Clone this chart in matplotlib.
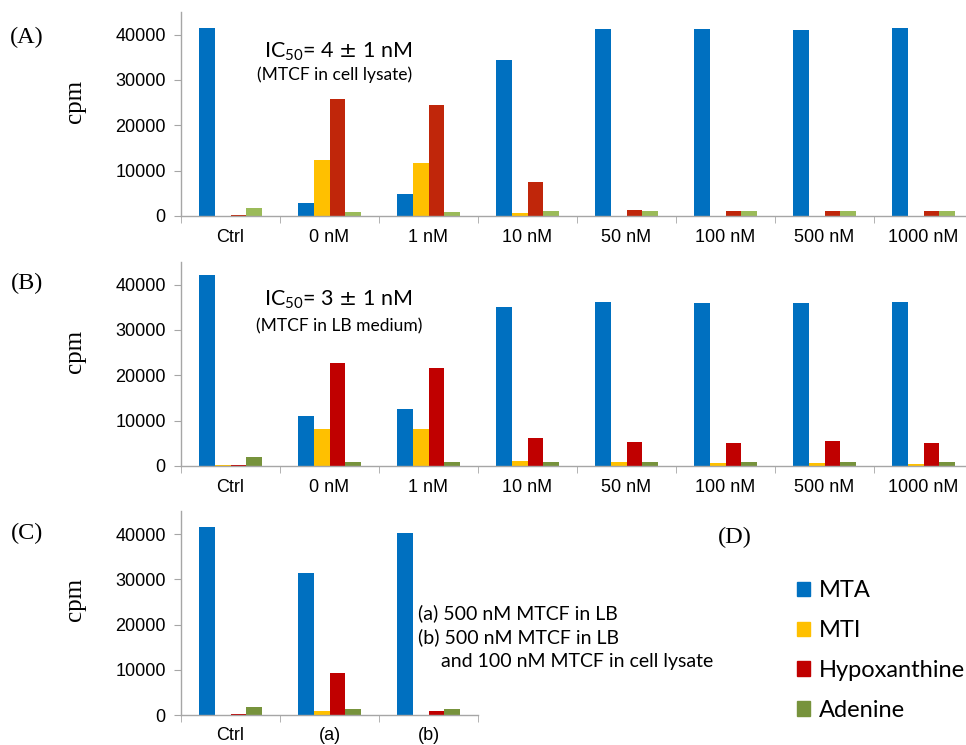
import numpy as np
from matplotlib import pyplot as plt

# Categories and series
concLabels = ['Ctrl', '0 nM', '1 nM', '10 nM', '50 nM', '100 nM', '500 nM', '1000 nM']
mixLabels = ['Ctrl', '(a)', '(b)']
seriesNames = ['MTA', 'MTI', 'Hypoxanthine', 'Adenine']

# Panel A: MTCF in cell lysate (cpm)
mtaA = [41500, 2900, 4900, 34500, 41300, 41150, 41080, 41500]
mtiA = [100, 12300, 11700, 600, 100, 100, 100, 100]
hypoA = [300, 25800, 24500, 7450, 1300, 1000, 1000, 1000]
adeA = [1700, 900, 900, 1200, 1100, 1000, 1000, 1000]

# Panel B: MTCF in LB medium (cpm)
mtaB = [42100, 11000, 12600, 35100, 36200, 35850, 36000, 36200]
mtiB = [200, 8250, 8100, 1000, 900, 700, 700, 500]
hypoB = [300, 22700, 21550, 6200, 5400, 5150, 5600, 5150]
adeB = [2000, 950, 800, 900, 900, 950, 900, 900]

# Panel C: combined treatments (cpm)
mtaC = [41500, 31400, 40200]
mtiC = [100, 900, 100]
hypoC = [300, 9200, 950]
adeC = [1700, 1300, 1300]

colorsA = ['#0070C0', '#FFC000', '#C0260A', '#9BBB59']
colorsB = ['#0070C0', '#FFC000', '#C00000', '#77933C']

W, H = 966, 745
tickFont = {'family': 'Liberation Sans', 'size': 13}
serifFont = {'family': 'Liberation Serif', 'size': 17.5}
noteFamily = 'Lato'

fig = plt.figure(figsize=(W / 100.0, H / 100.0), dpi=100)


def pixAxes(left, top, right, bottom):
    return fig.add_axes([left / W, 1 - bottom / H, (right - left) / W, (bottom - top) / H])


def drawPanel(ax, labels, series, colors):
    n = len(labels)
    ind = np.arange(n)
    width = 0.157
    for k in range(4):
        ax.bar(ind + (k - 1.5) * width, series[k], width, color=colors[k],
               edgecolor='none', zorder=2)
    ax.set_xlim(-0.5, n - 0.5)
    ax.set_ylim(0, 45000)
    ax.set_yticks(np.arange(0, 40001, 10000))
    ax.set_yticklabels([str(v) for v in range(0, 40001, 10000)], **tickFont)
    ax.set_xticks(ind)
    ax.set_xticklabels(labels, **tickFont)
    ax.set_xticks(np.arange(-0.5, n, 1.0), minor=True)
    ax.tick_params(axis='x', which='major', length=0, pad=9)
    ax.tick_params(axis='x', which='minor', length=5, color='#A6A6A6')
    ax.tick_params(axis='y', length=5, color='#A6A6A6', pad=6)
    for s in ['top', 'right']:
        ax.spines[s].set_visible(False)
    for s in ['left', 'bottom']:
        ax.spines[s].set_color('#A6A6A6')
        ax.spines[s].set_linewidth(1.0)
    ax.patch.set_alpha(0)


axA = pixAxes(181, 12, 973, 216)
drawPanel(axA, concLabels, [mtaA, mtiA, hypoA, adeA], colorsA)
axB = pixAxes(181, 262, 973, 466)
drawPanel(axB, concLabels, [mtaB, mtiB, hypoB, adeB], colorsB)
axC = pixAxes(181, 511.5, 478, 715)
drawPanel(axC, mixLabels, [mtaC, mtiC, hypoC, adeC], colorsB)


def figText(x, y, s, **kw):
    fig.text(x / W, 1 - y / H, s, **kw)


# Panel letters and y labels
for letter, (x, y) in zip(['(A)', '(B)', '(C)', '(D)'],
                          [(27, 37), (27, 283), (27, 533), (735, 537)]):
    figText(x, y, letter, ha='center', va='center', **serifFont)
for y in [101, 351, 599]:
    figText(75, y, 'cpm', ha='center', va='center', rotation=90,
            family='Liberation Serif', size=18)

# IC50 notes
figText(338, 52, r'IC$_{\mathregular{50}}$= 4 $\pm$ 1 nM', ha='center', va='center',
        family=noteFamily, size=15.5)
figText(335, 75, '(MTCF in cell lysate)', ha='center', va='center',
        family=noteFamily, size=12.5)
figText(338, 300, r'IC$_{\mathregular{50}}$= 3 $\pm$ 1 nM', ha='center', va='center',
        family=noteFamily, size=15.5)
figText(339, 326, '(MTCF in LB medium)', ha='center', va='center',
        family=noteFamily, size=12.5)

# Treatment key for panel C
noteSize = 14
figText(418, 613, '(a) 500 nM MTCF in LB', ha='left', va='center', family=noteFamily, size=noteSize)
figText(418, 637, '(b) 500 nM MTCF in LB', ha='left', va='center', family=noteFamily, size=noteSize)
figText(441, 662, 'and 100 nM MTCF in cell lysate', ha='left', va='center',
        family=noteFamily, size=noteSize)

# Legend (D)
handles = [plt.Rectangle((0, 0), 1, 1, color=c) for c in colorsB]
fig.legend(handles, seriesNames, loc='center left',
           bbox_to_anchor=(797 / W, 1 - 650.5 / H), frameon=False,
           prop={'family': noteFamily, 'size': 17}, handlelength=0.55,
           handleheight=0.55, handletextpad=0.38, labelspacing=0.8,
           borderpad=0, borderaxespad=0)

plt.savefig('out.png', dpi=100)
